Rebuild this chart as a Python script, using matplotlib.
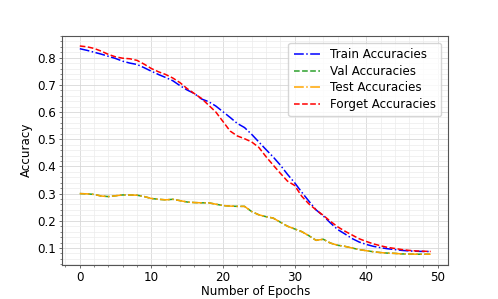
import matplotlib
matplotlib.use("Agg")
import matplotlib.pyplot as plt

# per-epoch accuracies
epochs = list(range(50))

train_acc = [0.833, 0.827, 0.820, 0.813, 0.805, 0.797, 0.787, 0.780, 0.775, 0.763,
             0.750, 0.738, 0.727, 0.715, 0.697, 0.681, 0.668, 0.648, 0.638, 0.622,
             0.601, 0.580, 0.558, 0.543, 0.518, 0.490, 0.462, 0.435, 0.405, 0.371,
             0.340, 0.305, 0.272, 0.240, 0.218, 0.192, 0.168, 0.152, 0.135, 0.122,
             0.113, 0.106, 0.101, 0.097, 0.094, 0.091, 0.089, 0.088, 0.087, 0.087]

val_acc = [0.300, 0.299, 0.297, 0.291, 0.289, 0.292, 0.295, 0.295, 0.294, 0.289,
           0.282, 0.279, 0.277, 0.279, 0.274, 0.269, 0.267, 0.266, 0.266, 0.261,
           0.256, 0.254, 0.253, 0.253, 0.234, 0.222, 0.215, 0.210, 0.195, 0.180,
           0.170, 0.160, 0.145, 0.128, 0.132, 0.118, 0.110, 0.106, 0.100, 0.094,
           0.090, 0.086, 0.083, 0.081, 0.080, 0.078, 0.078, 0.077, 0.077, 0.077]

test_acc = [0.300, 0.299, 0.297, 0.291, 0.289, 0.292, 0.295, 0.295, 0.294, 0.289,
            0.282, 0.279, 0.277, 0.279, 0.274, 0.269, 0.267, 0.266, 0.266, 0.261,
            0.256, 0.254, 0.253, 0.253, 0.234, 0.222, 0.215, 0.210, 0.195, 0.180,
            0.170, 0.160, 0.145, 0.128, 0.132, 0.118, 0.110, 0.106, 0.100, 0.094,
            0.090, 0.086, 0.083, 0.081, 0.080, 0.078, 0.078, 0.077, 0.077, 0.077]

forget_acc = [0.843, 0.840, 0.834, 0.824, 0.812, 0.803, 0.798, 0.796, 0.790, 0.776,
              0.760, 0.748, 0.738, 0.725, 0.708, 0.686, 0.668, 0.650, 0.625, 0.600,
              0.565, 0.530, 0.512, 0.502, 0.490, 0.470, 0.436, 0.405, 0.375, 0.346,
              0.330, 0.290, 0.262, 0.240, 0.220, 0.198, 0.178, 0.162, 0.148, 0.134,
              0.124, 0.115, 0.108, 0.102, 0.098, 0.094, 0.091, 0.089, 0.088, 0.087]

fs = 8.6

fig = plt.figure(figsize=(4.98, 2.99), dpi=100)
ax = fig.add_axes([0.125, 0.115, 0.775, 0.766])

lw = 1.1
ax.plot(epochs, train_acc, '-.', color='blue', lw=lw, label='Train Accuracies')
ax.plot(epochs, val_acc, '--', color='tab:green', lw=lw, label='Val Accuracies')
ax.plot(epochs, test_acc, '-.', color='orange', lw=lw, label='Test Accuracies')
ax.plot(epochs, forget_acc, '--', color='red', lw=lw, label='Forget Accuracies')

ax.set_xlabel('Number of Epochs', fontsize=fs, labelpad=1)
ax.set_ylabel('Accuracy', fontsize=fs, labelpad=3)
ax.set_yticks([0.1, 0.2, 0.3, 0.4, 0.5, 0.6, 0.7, 0.8])
ax.minorticks_on()

# grid: major and minor, light grey
ax.grid(which='major', color='#d8d8d8', lw=0.6)
ax.grid(which='minor', color='#ececec', lw=0.5)
ax.set_axisbelow(True)

for s in ax.spines.values():
    s.set_color('#555555')
    s.set_linewidth(0.8)
ax.tick_params(which='major', labelsize=fs, length=2.5, width=0.6, color='#555555', pad=2)
ax.tick_params(which='minor', length=1.5, width=0.5, color='#555555')

ax.legend(loc='upper right', fontsize=fs, framealpha=0.8, handlelength=2.2,
          borderpad=0.45, labelspacing=0.3, borderaxespad=0.6)

fig.savefig('out.png', dpi=100)
